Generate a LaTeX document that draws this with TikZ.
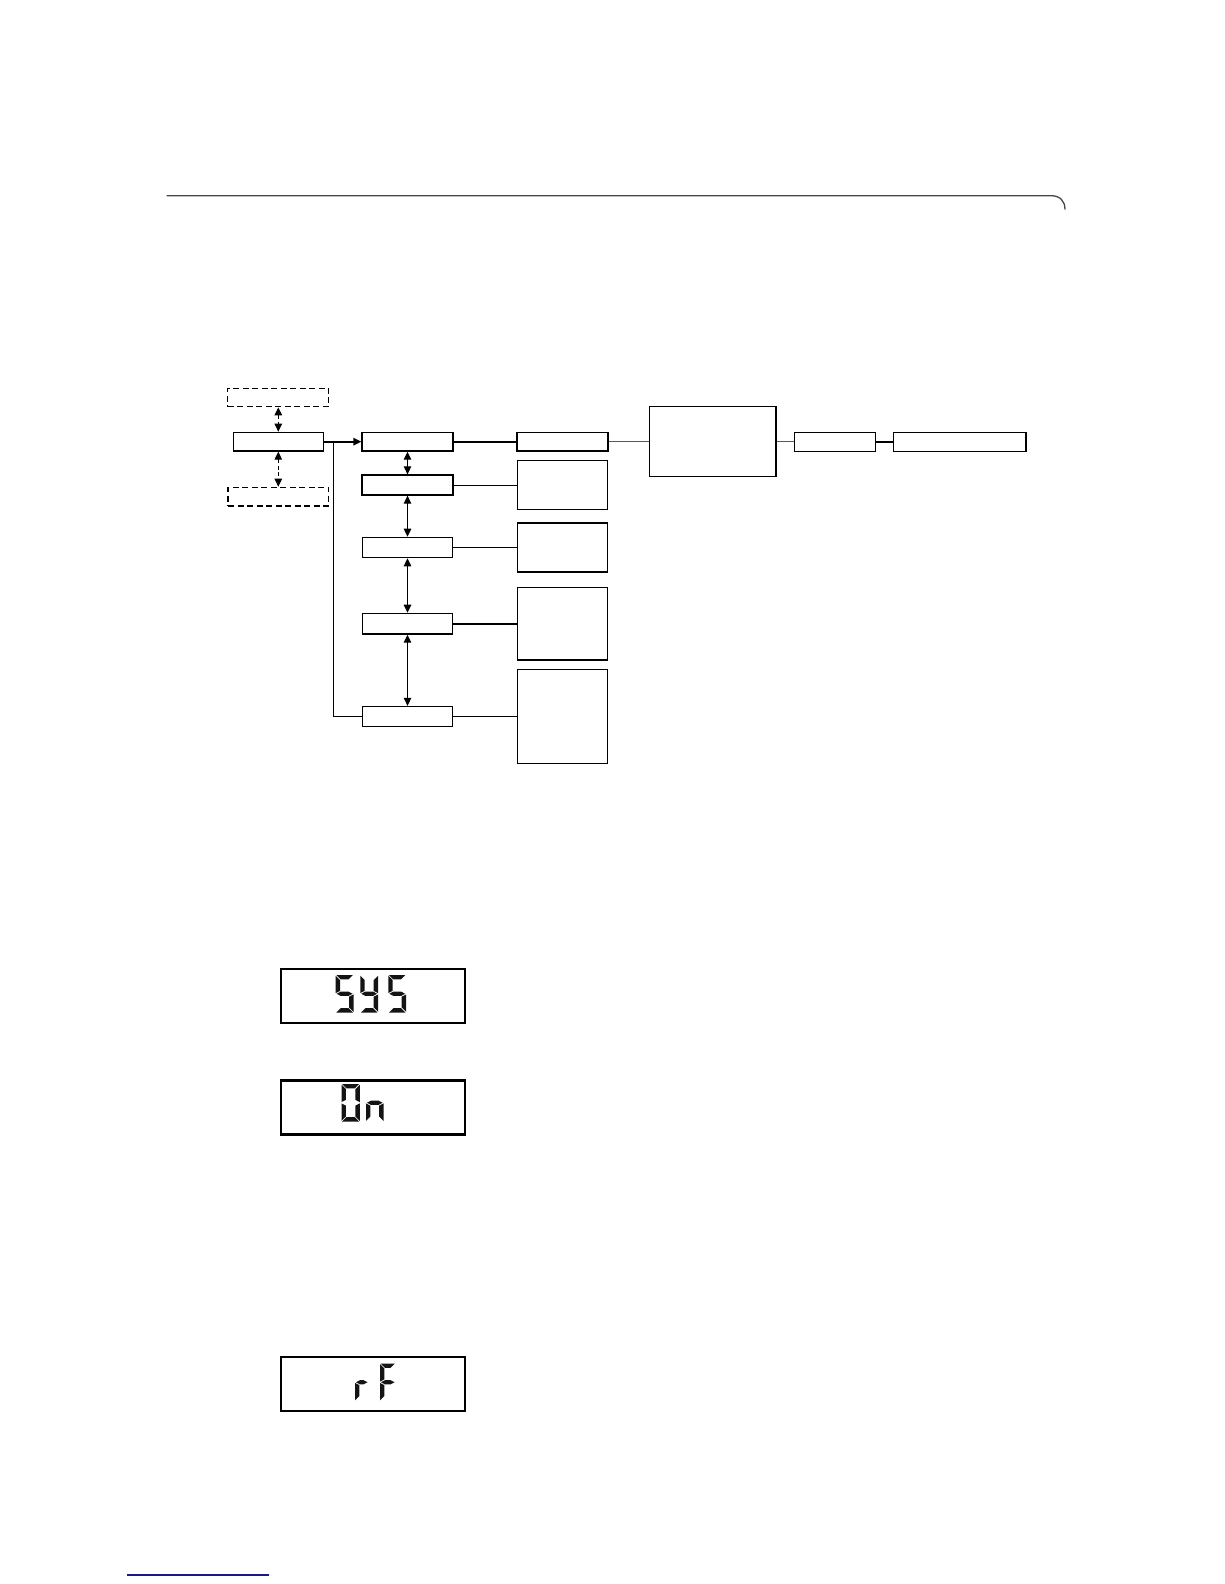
\documentclass[tikz,border=0pt]{standalone}
\usetikzlibrary{arrows.meta}
\definecolor{navyline}{RGB}{24,24,140}
\definecolor{rulegray}{RGB}{70,70,70}
\tikzset{
  bx/.style 2 args={draw, line width=1.3pt, inner sep=0pt, minimum width=#1, minimum height=#2},
  dbx/.style 2 args={bx={#1}{#2}, dash pattern=on 6pt off 3.5pt},
  lcd/.style={draw, line width=2.3pt, inner sep=0pt, minimum width=184pt, minimum height=54pt},
  tipend/.style={-{Triangle[length=8pt,width=7.5pt]}},
  dtip/.style={{Triangle[length=8pt,width=7.5pt]}-{Triangle[length=8pt,width=7.5pt]}},
  thinconn/.style={line width=0.9pt},
  thickconn/.style={line width=1.8pt},
  greyconn/.style={line width=1pt, draw=black!65}
}
% seven-segment pieces (local coords: origin top-left, y down)
\def\st{4.4}\def\sg{0.7}\def\sh{37.5}\def\sm{18.75}
\newcommand\segA{\fill (\sg,0) -- (\dw-\sg,0) -- (\dw-\sg-\st,\st) -- (\sg+\st,\st) -- cycle;}
\newcommand\segD{\fill (\sg,\sh) -- (\dw-\sg,\sh) -- (\dw-\sg-\st,\sh-\st) -- (\sg+\st,\sh-\st) -- cycle;}
\newcommand\segG{\fill (\sg+0.3,\sm) -- (\sg+\st,\sm-\st/2) -- (\dw-\sg-\st,\sm-\st/2) -- (\dw-\sg-0.3,\sm) -- (\dw-\sg-\st,\sm+\st/2) -- (\sg+\st,\sm+\st/2) -- cycle;}
\newcommand\segF{\fill (0,\sg) -- (\st,\sg+\st) -- (\st,\sm-\sg-\st/2) -- (0,\sm-\sg) -- cycle;}
\newcommand\segB{\fill (\dw,\sg) -- (\dw-\st,\sg+\st) -- (\dw-\st,\sm-\sg-\st/2) -- (\dw,\sm-\sg) -- cycle;}
\newcommand\segE{\fill (0,\sm+\sg) -- (\st,\sm+\sg+\st/2) -- (\st,\sh-\sg-\st) -- (0,\sh-\sg) -- cycle;}
\newcommand\segC{\fill (\dw,\sm+\sg) -- (\dw-\st,\sm+\sg+\st/2) -- (\dw-\st,\sh-\sg-\st) -- (\dw,\sh-\sg) -- cycle;}
\newcommand\digitat[4]{\begin{scope}[shift={(#1,#2)}]\def\dw{#3}#4\end{scope}}
\begin{document}
\begin{tikzpicture}[x=1pt,y=-1pt]
\useasboundingbox (0,0) rectangle (1224,1584);

% header rule
\coordinate (r0) at (166.5,195.7);
\coordinate (r1) at (1051,195.7);
\coordinate (r2) at (1065,209.5);
\draw[rulegray, line width=1.3pt] (r0) -- (r1) .. controls (1060,195.7) and (1065,201) .. (r2);

% left column
\node[bx={90}{18.7}] (L) at (278.3,441.7) {};
\node[dbx={101}{18.4}] (DT) at (278.3,397.5) {};
\node[dbx={100.4}{18.7}] (DB) at (278.3,496.7) {};
\draw[dtip, line width=1pt, dash pattern=on 4pt off 2.5pt] (DT.south) -- (L.north);
\draw[dtip, line width=1pt, dash pattern=on 4pt off 2.5pt] (L.south) -- (DB.north);

% menu column
\node[bx={91}{18.7}] (A) at (407.5,441.7) {};
\node[bx={91}{20}] (B) at (407.5,485) {};
\node[bx={90.5}{20.4}] (C) at (407.5,547.5) {};
\node[bx={90.5}{20.7}] (D) at (407.5,623.7) {};
\node[bx={90.5}{20}] (E) at (407.5,716.5) {};

\draw[tipend, line width=1.6pt] (L.east) -- (A.west);
\coordinate (J) at (333.3,441.7);
\draw[line width=1.1pt] (J) |- (E.west);

\draw[dtip, line width=1.2pt] (A.south) -- (B.north);
\draw[dtip, line width=1.2pt] (B.south) -- (C.north);
\draw[dtip, line width=1.2pt] (C.south) -- (D.north);
\draw[dtip, line width=1.2pt] (D.south) -- (E.north);

% right column
\node[bx={91}{18.7}] (R1) at (562.6,441.7) {};
\node[bx={90}{48.6}] (R2) at (562.6,485) {};
\node[bx={90}{49}] (R3) at (562.6,547.5) {};
\node[bx={90}{72.7}] (R4) at (562.6,623.7) {};
\node[bx={90}{94}] (R5) at (562.6,716.5) {};

\draw[thickconn] (A.east) -- (R1.west);
\draw[thinconn] (B.east) -- (R2.west);
\draw[thickconn] (C.east) -- (R3.west);
\draw[thickconn] (D.east) -- (R4.west);
\draw[thinconn] (E.east) -- (R5.west);

% far right
\node[bx={126.7}{70}] (BIG) at (712.7,441.7) {};
\node[bx={81}{19}] (F) at (834.8,441.7) {};
\node[bx={132.7}{19}] (G) at (959.7,441.7) {};
\draw[greyconn] (R1.east) -- (BIG.west);
\draw[greyconn] (BIG.east) -- (F.west);
\draw[thickconn] (F.east) -- (G.west);

% LCD displays
\node[lcd] (lcd1) at (372.8,996.2) {};
\node[lcd] (lcd2) at (372.8,1107.5) {};
\node[lcd] (lcd3) at (372.8,1384) {};

\begin{scope}[fill=black!92]
% SYS
\digitat{335.7}{975}{17.8}{\segA\segF\segG\segC\segD}
\digitat{360.3}{975}{17.8}{\segF\segB\segG\segC\segD}
\digitat{388.3}{975}{17.8}{\segA\segF\segG\segC\segD}
% On
\digitat{341.5}{1084}{18.3}{\segA\segB\segC\segD\segE\segF}
\digitat{366}{1084}{17.5}{\segE\segG\segC}
% rF
\digitat{355}{1363.5}{13.5}{\segE\segG}
\digitat{380}{1363.5}{15.5}{\segA\segF\segG\segE}
\end{scope}

% footer link underline
\coordinate (u0) at (127.3,1575);
\coordinate (u1) at (269,1575);
\draw[navyline, line width=1.2pt] (u0) -- (u1);
\end{tikzpicture}
\end{document}
